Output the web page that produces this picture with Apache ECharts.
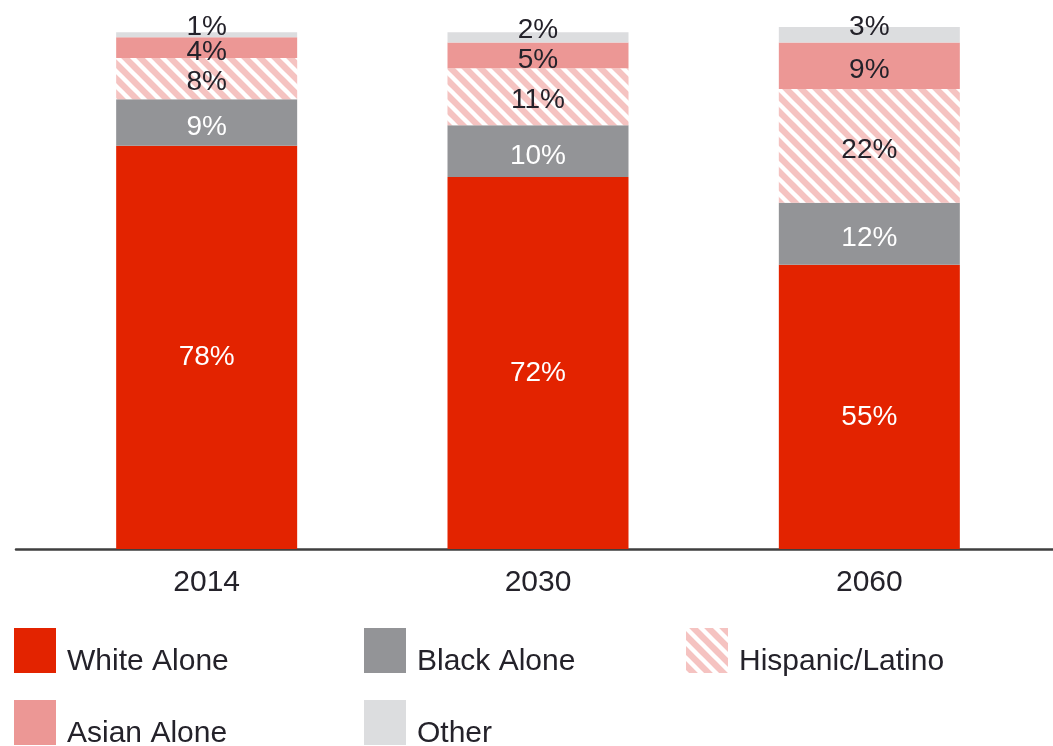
<!DOCTYPE html>
<html>
<head>
<meta charset="utf-8">
<script src="https://cdn.jsdelivr.net/npm/echarts@6/dist/echarts.min.js"></script>
<style>
  html, body { margin: 0; padding: 0; background: #ffffff; }
  #chart { width: 1053px; height: 746px; }
</style>
</head>
<body>
<div id="chart"></div>
<script>
// Population share by race / ethnicity (%)
const years = ['2014', '2030', '2060'];
const whiteAlone = [78, 72, 55];
const blackAlone = [9, 10, 12];
const hispanicLatino = [8, 11, 22];
const asianAlone = [4, 5, 9];
const otherRace = [1, 2, 3];

const FONT = '"Liberation Sans", Arial, sans-serif';
const TEXT_DARK = '#24222a';

// Diagonal white stripes over light pink for the Hispanic/Latino segment
function stripePattern() {
  const s = 15;
  const c = document.createElement('canvas');
  c.width = s; c.height = s;
  const ctx = c.getContext('2d');
  ctx.fillStyle = '#f5c3c1';
  ctx.fillRect(0, 0, s, s);
  ctx.strokeStyle = '#ffffff';
  ctx.lineWidth = 4.4;
  for (let k = -1; k <= 1; k++) {
    ctx.beginPath();
    ctx.moveTo(k * s - s, -s);
    ctx.lineTo(k * s + 2 * s, 2 * s);
    ctx.stroke();
  }
  return { image: c, repeat: 'repeat' };
}

function barSeries(name, data, color, labelColor, offsetY) {
  return {
    name: name,
    type: 'bar',
    stack: 'total',
    barWidth: 181,
    data: data,
    itemStyle: { color: color },
    label: {
      show: true,
      position: 'inside',
      formatter: '{c}%',
      color: labelColor,
      fontFamily: FONT,
      fontSize: 28,
      offset: [0, offsetY]
    },
    emphasis: { disabled: true }
  };
}

// One legend per entry so each swatch sits in its own column / row;
// the caption is dropped toward the bottom edge of the swatch.
function legendAt(name, left, top) {
  return {
    data: [{ name: name, icon: 'rect' }],
    left: left,
    top: top,
    padding: 0,
    itemWidth: 42,
    itemHeight: 45,
    itemGap: 0,
    selectedMode: false,
    formatter: '{t|{name}}',
    textStyle: {
      fontFamily: FONT,
      fontSize: 30,
      color: TEXT_DARK,
      rich: {
        t: {
          fontFamily: FONT,
          fontSize: 30,
          color: TEXT_DARK,
          padding: [22, 0, 0, 6]
        }
      }
    }
  };
}

const chart = echarts.init(document.getElementById('chart'), null, { renderer: 'canvas' });

chart.setOption({
  animation: false,
  backgroundColor: '#ffffff',
  grid: [
    { left: 41, right: 18, top: 27, bottom: 197, containLabel: false },
    { left: 16, right: 0, top: 27, bottom: 197, containLabel: false }
  ],
  xAxis: [
    {
      type: 'category',
      gridIndex: 0,
      data: years,
      axisLine: { show: false },
      axisTick: { show: false },
      axisLabel: {
        margin: 19,
        fontFamily: FONT,
        fontSize: 30,
        color: TEXT_DARK
      }
    },
    {
      type: 'value',
      gridIndex: 1,
      min: 0,
      max: 1,
      axisLine: { show: true, onZero: false, lineStyle: { color: '#3f3f3f', width: 2.5 } },
      axisTick: { show: false },
      axisLabel: { show: false },
      splitLine: { show: false }
    }
  ],
  yAxis: [
    { type: 'value', gridIndex: 0, min: 0, max: 101, show: false, splitLine: { show: false } },
    { type: 'value', gridIndex: 1, min: 0, max: 1, show: false, splitLine: { show: false } }
  ],
  legend: [
    legendAt('White Alone', 14, 628),
    legendAt('Asian Alone', 14, 700),
    legendAt('Black Alone', 364, 628),
    legendAt('Other', 364, 700),
    legendAt('Hispanic/Latino', 686, 628)
  ],
  series: [
    barSeries('White Alone', whiteAlone, '#e32300', '#ffffff', 10),
    barSeries('Black Alone', blackAlone, '#939497', '#ffffff', 5),
    barSeries('Hispanic/Latino', hispanicLatino, stripePattern(), TEXT_DARK, 4),
    barSeries('Asian Alone', asianAlone, '#ec9795', TEXT_DARK, 5),
    barSeries('Other', otherRace, '#dcdddf', TEXT_DARK, -7)
  ]
});
</script>
</body>
</html>
